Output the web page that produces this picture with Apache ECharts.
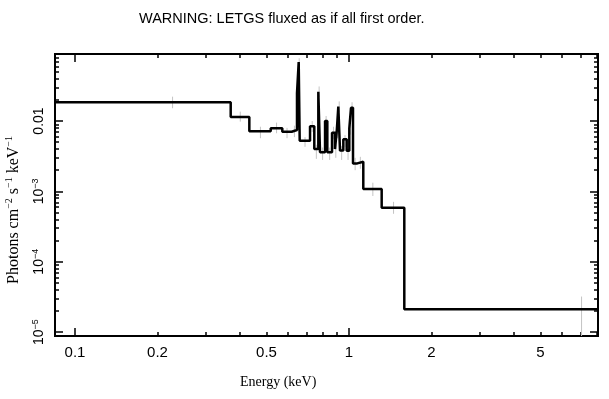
<!DOCTYPE html>
<html>
<head>
<meta charset="utf-8">
<script src="https://cdn.jsdelivr.net/npm/echarts@6/dist/echarts.min.js"></script>
<style>html,body{margin:0;padding:0;background:#fff}#chart{width:609px;height:399px}</style>
</head>
<body>
<div id="chart"></div>
<script>
// model histogram: bin edges (keV) and flux per bin
const binEdges = [0.0845, 0.370, 0.4327, 0.5179, 0.5709, 0.6177, 0.6459, 0.6552, 0.6608, 0.7207,
  0.7470, 0.7727, 0.7838, 0.8177, 0.8334, 0.8670, 0.8889, 0.9018, 0.9141, 0.9272,
  0.9533, 0.9808, 1.0025, 1.0169, 1.0342, 1.0722, 1.1276, 1.3160, 1.5916, 8.107];
const binFlux = [0.01845, 0.0114, 0.00714, 0.00788, 0.00705, 0.00745, 0.025, 0.069, 0.00525, 0.00841,
  0.0040, 0.0261, 0.00359, 0.0100, 0.00359, 0.00682, 0.0040, 0.00705, 0.0160, 0.0038,
  0.00549, 0.00378, 0.00778, 0.01545, 0.0025, 0.00264, 0.00108, 0.000585, 2.12e-5];

// grey data error bars
const dataE  = [0.227, 0.401, 0.475, 0.544, 0.594, 0.632, 0.658, 0.691, 0.734, 0.760, 0.778, 0.801, 0.825, 0.850,
  0.878, 0.895, 0.908, 0.921, 0.940, 0.967, 0.992, 1.010, 1.026, 1.053, 1.100, 1.222, 1.454, 7.06];
const dataLo = [0.0152, 0.0098, 0.0057, 0.0067, 0.0057, 0.0059, 0.060, 0.0043, 0.0070, 0.0029, 0.022, 0.0028, 0.0084, 0.0028,
  0.0055, 0.0030, 0.0057, 0.0135, 0.0028, 0.0043, 0.0028, 0.0064, 0.0130, 0.0020, 0.0021, 0.00086, 0.00048, 5e-6];
const dataHi = [0.0222, 0.0136, 0.0083, 0.0095, 0.0080, 0.0086, 0.078, 0.0059, 0.0100, 0.0046, 0.031, 0.0042, 0.0118, 0.0042,
  0.0083, 0.0046, 0.0085, 0.0190, 0.0044, 0.0063, 0.0044, 0.0092, 0.0185, 0.0030, 0.0031, 0.00133, 0.00071, 3.2e-5];

// axis ranges and ticks
const xRange = [0.0845, 8.107];
const yRange = [8.8e-6, 0.0897];
const xMajor = [0.1, 1];
const xMinor = [0.2, 0.3, 0.4, 0.5, 0.6, 0.7, 0.8, 0.9, 2, 3, 4, 5, 6, 7, 8];
const xLabelValues = [0.1, 0.2, 0.5, 1, 2, 5];
const xLabelTexts = ['0.1', '0.2', '0.5', '1', '2', '5'];
const yMajor = [1e-5, 1e-4, 1e-3, 1e-2];
const yLabelTexts = ['{n|10}{s|\u22125}', '{n|10}{s|\u22124}', '{n|10}{s|\u22123}', '{n|0.01}'];

const L = Math.log10;
const yMinor = [];
[1e-6, 1e-5, 1e-4, 1e-3, 1e-2].forEach(d => {
  for (let m = 2; m <= 9; m++) {
    const v = m * d;
    if (v > yRange[0] && v < yRange[1]) yMinor.push(v);
  }
});

const near = (a, b) => Math.abs(a - b) < 1e-6;
const sans = 'Liberation Sans';
const serif = 'Liberation Serif';

function makeX(pos, ticks, len, withLabels) {
  return {
    type: 'value', position: pos, min: L(xRange[0]), max: L(xRange[1]),
    axisLine: { show: true, onZero: false, lineStyle: { color: '#000', width: 2 } },
    axisTick: { show: true, inside: true, length: len, customValues: ticks.map(L),
      lineStyle: { color: '#000', width: 1.5 } },
    axisLabel: withLabels ? {
      show: true, margin: 9, color: '#000', fontFamily: sans, fontSize: 15,
      customValues: xLabelValues.map(L),
      formatter: v => { const i = xLabelValues.findIndex(t => near(L(t), v)); return i < 0 ? '' : xLabelTexts[i]; }
    } : { show: false },
    splitLine: { show: false }
  };
}

function makeY(pos, ticks, len, withLabels) {
  const ax = {
    type: 'value', position: pos, min: L(yRange[0]), max: L(yRange[1]),
    axisLine: { show: true, onZero: false, lineStyle: { color: '#000', width: 2 } },
    axisTick: { show: true, inside: true, length: len, customValues: ticks.map(L),
      lineStyle: { color: '#000', width: 1.5 } },
    axisLabel: withLabels ? {
      show: true, margin: 8, rotate: 90, color: '#000', fontFamily: sans,
      customValues: yMajor.map(L),
      formatter: v => { const i = yMajor.findIndex(t => near(L(t), v)); return i < 0 ? '' : yLabelTexts[i]; },
      rich: {
        n: { fontFamily: sans, fontSize: 14, lineHeight: 16, color: '#000' },
        s: { fontFamily: sans, fontSize: 9, lineHeight: 9, verticalAlign: 'top', color: '#000' }
      }
    } : { show: false },
    splitLine: { show: false }
  };
  if (withLabels) {
    ax.name = 'Photons cm{s|\u22122} s{s|\u22121} keV{s|\u22121}';
    ax.nameLocation = 'middle';
    ax.nameRotate = 90;
    ax.nameGap = 27;
    ax.nameTextStyle = {
      fontFamily: serif, fontSize: 16, lineHeight: 19, color: '#000', padding: [0, 30, 0, 0],
      rich: { s: { fontFamily: serif, fontSize: 10, lineHeight: 10, verticalAlign: 'top', color: '#000' } }
    };
  }
  return ax;
}

// step line vertices: left edge of every bin, plus the final right edge
const stepData = binFlux.map((f, i) => [L(binEdges[i]), L(f)]);
stepData.push([L(binEdges[binEdges.length - 1]), L(binFlux[binFlux.length - 1])]);

const errData = dataE.map((e, i) => [L(e), L(dataLo[i]), L(dataHi[i])]);

const chart = echarts.init(document.getElementById('chart'));
chart.setOption({
  animation: false,
  backgroundColor: '#fff',
  title: [
    { text: 'WARNING: LETGS fluxed as if all first order.', left: 134, top: 6,
      textStyle: { fontFamily: sans, fontSize: 14.5, fontWeight: 'normal', color: '#000' } },
    { text: 'Energy (keV)', left: 235, top: 370,
      textStyle: { fontFamily: serif, fontSize: 14, fontWeight: 'normal', color: '#000' } }
  ],
  grid: { left: 55, right: 11, top: 54, bottom: 63, containLabel: false, outerBoundsMode: 'none' },
  xAxis: [
    makeX('bottom', xMajor, 8, true),
    makeX('bottom', xMinor, 4, false),
    makeX('top', xMajor, 8, false),
    makeX('top', xMinor, 4, false)
  ],
  yAxis: [
    makeY('left', yMajor, 8, true),
    makeY('left', yMinor, 4, false),
    makeY('right', yMajor, 8, false),
    makeY('right', yMinor, 4, false)
  ],
  series: [
    {
      type: 'custom', xAxisIndex: 0, yAxisIndex: 0, clip: true, z: 1,
      data: errData,
      renderItem: (params, api) => {
        const p1 = api.coord([api.value(0), api.value(1)]);
        const p2 = api.coord([api.value(0), api.value(2)]);
        return { type: 'line', shape: { x1: p1[0], y1: p1[1], x2: p2[0], y2: p2[1] },
          style: { stroke: '#c4c4c4', lineWidth: 1 } };
      }
    },
    {
      type: 'line', xAxisIndex: 0, yAxisIndex: 0, step: 'end', clip: true, z: 3,
      data: stepData, symbol: 'none',
      lineStyle: { color: '#000', width: 2.5 }
    }
  ]
});
</script>
</body>
</html>
